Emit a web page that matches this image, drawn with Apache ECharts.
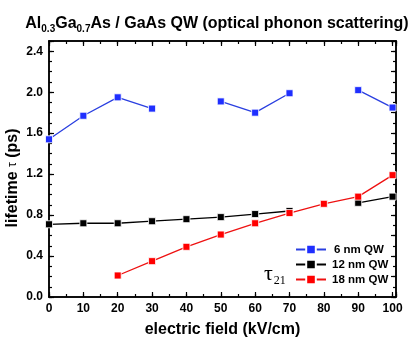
<!DOCTYPE html>
<html><head><meta charset="utf-8">
<script src="https://cdn.jsdelivr.net/npm/echarts@6/dist/echarts.min.js"></script>
<style>html,body{margin:0;padding:0;background:#fff}#c{width:413px;height:345px}</style>
</head><body><div id="c"></div>
<script>
const fields = [0, 10, 20, 30, 40, 50, 60, 70, 80, 90, 100];
const qw6  = [1.54, 1.77, 1.95, 1.84, null, 1.91, 1.80, 1.99, null, 2.02, 1.85];
const qw12 = [0.71, 0.72, 0.72, 0.74, 0.76, 0.78, 0.81, 0.84, null, 0.92, 0.98];
const qw18 = [null, null, 0.21, 0.35, 0.49, 0.61, 0.72, 0.82, 0.91, 0.98, 1.19];
const seriesNames = ['6 nm QW', '12 nm QW', '18 nm QW'];
const seriesColors = ['#1f2fff', '#000000', '#ff0000'];
const lineColors = ['#2a3fe0', '#000000', '#ee1111'];

const font = '"Liberation Sans", Arial, sans-serif';
const chart = echarts.init(document.getElementById('c'), null, {renderer: 'canvas'});
const X0 = 0, X1 = 101, Y0 = 0, Y1 = 2.5;
const axisLine = {show: true, onZero: false, lineStyle: {color: '#000', width: 1.5}};
function xAx(pos, interval, len, labels, name) {
  return {
    type: 'value', position: pos, min: X0, max: X1, interval: interval,
    axisLine: axisLine, splitLine: {show: false},
    axisTick: {show: true, inside: true, length: len, lineStyle: {color: '#000', width: 1.2}},
    axisLabel: labels ? {show: true, margin: 6, color: '#000', fontFamily: font, fontWeight: 'bold', fontSize: 12,
      formatter: v => (Math.abs(v % 10) < 1e-6 ? String(v) : '')} : {show: false},
    name: name || '', nameLocation: 'middle', nameGap: 25,
    nameTextStyle: {color: '#000', fontFamily: font, fontWeight: 'bold', fontSize: 16}
  };
}
function yAx(pos, interval, len, labels) {
  return {
    type: 'value', position: pos, min: Y0, max: Y1, interval: interval,
    axisLine: axisLine, splitLine: {show: false},
    axisTick: {show: true, inside: true, length: len, lineStyle: {color: '#000', width: 1.2}},
    axisLabel: labels ? {show: true, margin: 6, color: '#000', fontFamily: font, fontWeight: 'bold', fontSize: 12,
      formatter: v => { const r = v / 0.4; return Math.abs(r - Math.round(r)) < 1e-6 ? v.toFixed(1) : ''; }} : {show: false}
  };
}
const series = [qw6, qw12, qw18].map((arr, i) => ({
  name: seriesNames[i], type: 'line', xAxisIndex: 0, yAxisIndex: 0,
  data: fields.map((f, j) => [f, arr[j]]),
  connectNulls: false, symbol: 'rect', symbolSize: 7, showSymbol: true,
  lineStyle: {color: lineColors[i], width: 1.3},
  itemStyle: {color: seriesColors[i], borderColor: '#fff', borderWidth: 0.8},
  emphasis: {disabled: true}, animation: false
}));

chart.setOption({
  animation: false,
  backgroundColor: '#fff',
  title: {
    text: 'Al{s|0.3}Ga{s|0.7}As / GaAs QW (optical phonon scattering)',
    left: 212, top: 9, textAlign: 'center',
    textStyle: {color: '#000', fontFamily: font, fontWeight: 'bold', fontSize: 16,
      rich: {s: {fontSize: 10, fontWeight: 'bold', fontFamily: font, color: '#000', verticalAlign: 'bottom', padding: [10, 0, 0, 0]}}}
  },
  grid: {left: 49, right: 17, top: 41, bottom: 48, containLabel: false, outerBoundsMode: 'none'},
  xAxis: [
    xAx('bottom', 10, 5, true, 'electric field (kV/cm)'),
    xAx('bottom', 5, 3, false),
    xAx('top', 10, 5, false),
    xAx('top', 5, 3, false)
  ],
  yAxis: [
    yAx('left', 0.4, 5, true),
    yAx('left', 0.1, 3, false),
    yAx('right', 0.2, 5, false),
    yAx('right', 0.1, 3, false)
  ],
  legend: {
    data: seriesNames, orient: 'vertical', left: 290, top: 238,
    itemWidth: 30, itemHeight: 12, itemGap: 2,
    formatter: n => (n === seriesNames[0] ? '{b|' + n + '}' : '{a|' + n + '}'),
    textStyle: {color: '#000', fontFamily: font, fontWeight: 'bold', fontSize: 11.5, lineHeight: 13,
      rich: {
        a: {fontFamily: font, fontWeight: 'bold', fontSize: 11.5, lineHeight: 13, color: '#000', padding: [0, 0, 0, 1]},
        b: {fontFamily: font, fontWeight: 'bold', fontSize: 11.5, lineHeight: 13, color: '#000', padding: [0, 0, 0, 3]}
      }},
    selectedMode: false
  },
  graphic: [{
    type: 'text', x: 13, y: 178, rotation: Math.PI / 2, silent: true,
    style: {text: '{b|lifetime }{t|\u03c4}{b| (ps)}', align: 'center', verticalAlign: 'middle', rich: {
      b: {fontFamily: font, fontWeight: 'bold', fontSize: 16, fill: '#000'},
      t: {fontFamily: font, fontSize: 12, fill: '#000'}
    }}
  }, {
    type: 'text', left: 264, top: 263, silent: true,
    style: {text: '{t|\u03c4}{s|21}', rich: {
      t: {fontFamily: '"Liberation Serif", "DejaVu Serif", serif', fontSize: 22, fill: '#000'},
      s: {fontFamily: '"Liberation Serif", "DejaVu Serif", serif', fontSize: 12, fill: '#000', verticalAlign: 'bottom', padding: [14, 0, 0, 1]}
    }}
  }],
  series: series
});
</script></body></html>
